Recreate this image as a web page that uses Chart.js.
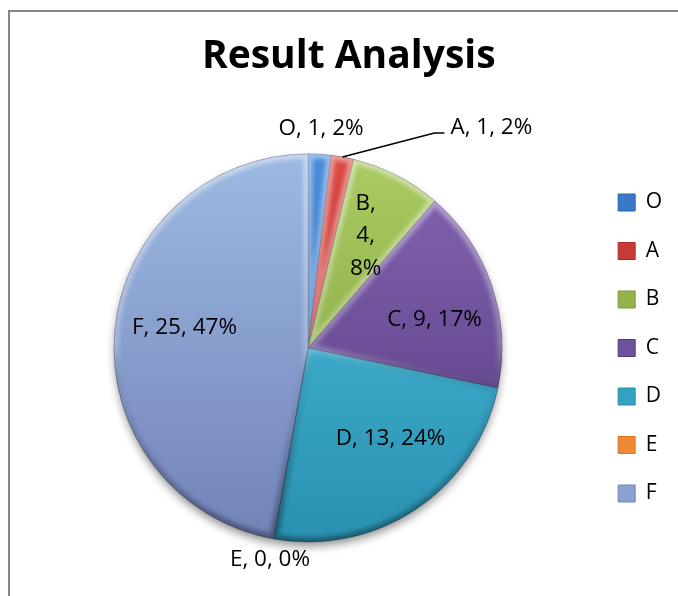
<!DOCTYPE html>
<html><head><meta charset="utf-8">
<script src="https://cdn.jsdelivr.net/npm/chart.js@4.4.0/dist/chart.umd.min.js"></script>
<style>
html,body{margin:0;padding:0;background:#fff;overflow:hidden;width:678px;height:596px;}
#frame{position:absolute;left:8px;top:10px;width:800px;height:800px;border-left:2px solid #878787;border-top:2px solid #878787;box-sizing:border-box;}
#wrap{position:absolute;left:0;top:0;width:678px;height:596px;}
</style></head><body>
<div id="frame"></div>
<div id="wrap"><canvas id="c" width="678" height="596"></canvas></div>
<script>
// ---- data ----
const categories = ['O', 'A', 'B', 'C', 'D', 'E', 'F'];
const counts = [1, 1, 4, 9, 13, 0, 25];
const chartTitle = 'Result Analysis';

// ---- styles ----
const lightColors = ['#4a8ddc', '#dc4a45', '#abcc62', '#8465b3', '#4cc3e0', '#f9a055', '#9dbae3'];
const darkColors  = ['#2862ad', '#ad2b28', '#7c9a38', '#54397d', '#2a8fb0', '#d9751f', '#7282b8'];
const legendColors = ['#3a78c8', '#c83a36', '#93b34c', '#6f529c', '#33a1c0', '#ee8a35', '#8aa2d0'];

// label placement (styling, not data)
const labelPlacement = [
  {mode: 'out', f: 1.134, dx: 0, dy: 0},
  {mode: 'leader', elbow: [92, -24], end: [102, -24], text: [6, -5]},
  {mode: 'in', f: 0.65, dx: 0, dy: 0, wrap: true},
  {mode: 'in', f: 0.65, dx: 7, dy: 12},
  {mode: 'in', f: 0.65, dx: 12, dy: -14},
  {mode: 'out', f: 1.11, dx: 0, dy: 0},
  {mode: 'in', f: 0.65, dx: 2, dy: -9}
];

// percentages that sum to 100 (largest remainder)
function percents(vals) {
  const total = vals.reduce((a, b) => a + b, 0);
  const raw = vals.map(v => v / total * 100);
  const fl = raw.map(Math.floor);
  let rest = 100 - fl.reduce((a, b) => a + b, 0);
  const order = raw.map((r, i) => [r - Math.floor(r), i]).sort((a, b) => b[0] - a[0]);
  for (let k = 0; k < rest; k++) fl[order[k][1]]++;
  return fl;
}
const pcts = percents(counts);

const shadowPlugin = {
  id: 'pieShadow',
  beforeDatasetsDraw(chart) {
    const arc = chart.getDatasetMeta(0).data[0];
    if (!arc) return;
    const ctx = chart.ctx;
    ctx.save();
    ctx.shadowColor = 'rgba(0,0,0,0.45)';
    ctx.shadowBlur = 10;
    ctx.shadowOffsetY = 5;
    ctx.beginPath();
    ctx.arc(arc.x, arc.y, arc.outerRadius - 1, 0, Math.PI * 2);
    ctx.fillStyle = '#888';
    ctx.fill();
    ctx.restore();
  }
};

// soft bevel on each slice edge
const bevelPlugin = {
  id: 'pieBevel',
  afterDatasetsDraw(chart) {
    const ctx = chart.ctx;
    const meta = chart.getDatasetMeta(0);
    meta.data.forEach((arc) => {
      if (arc.endAngle - arc.startAngle <= 0) return;
      const {x, y, outerRadius: R, startAngle: s, endAngle: e} = arc;
      ctx.save();
      ctx.beginPath();
      ctx.moveTo(x, y);
      ctx.arc(x, y, R, s, e);
      ctx.closePath();
      ctx.clip();
      const g = ctx.createLinearGradient(0, y - R, 0, y + R);
      g.addColorStop(0, 'rgba(255,255,255,0.45)');
      g.addColorStop(0.5, 'rgba(255,255,255,0.25)');
      g.addColorStop(0.62, 'rgba(0,0,0,0.05)');
      g.addColorStop(1, 'rgba(0,0,0,0.35)');
      ctx.filter = 'blur(2px)';
      ctx.lineWidth = 9;
      ctx.lineJoin = 'round';
      ctx.strokeStyle = g;
      ctx.stroke();
      ctx.restore();
    });
  }
};

const labelPlugin = {
  id: 'pieLabels',
  afterDatasetsDraw(chart) {
    const ctx = chart.ctx;
    const meta = chart.getDatasetMeta(0);
    ctx.save();
    ctx.font = '22.5px "Open Sans"';
    ctx.fillStyle = '#000';
    ctx.textBaseline = 'middle';
    meta.data.forEach((arc, i) => {
      const p = labelPlacement[i];
      const mid = (arc.startAngle + arc.endAngle) / 2;
      const R = arc.outerRadius;
      const txt = categories[i] + ', ' + counts[i] + ', ' + pcts[i] + '%';
      if (p.mode === 'leader') {
        const ex = arc.x + Math.cos(mid) * R, ey = arc.y + Math.sin(mid) * R;
        const bx = ex + p.elbow[0], by = ey + p.elbow[1];
        const cx = ex + p.end[0], cy = ey + p.end[1];
        ctx.beginPath();
        ctx.moveTo(ex, ey); ctx.lineTo(bx, by); ctx.lineTo(cx, cy);
        ctx.strokeStyle = '#000'; ctx.lineWidth = 1.5; ctx.stroke();
        ctx.textAlign = 'left';
        ctx.fillText(txt, cx + p.text[0], cy + p.text[1]);
        return;
      }
      const x = arc.x + Math.cos(mid) * R * p.f + p.dx;
      const y = arc.y + Math.sin(mid) * R * p.f + p.dy;
      ctx.textAlign = 'center';
      if (p.wrap) {
        const lines = [categories[i] + ',', counts[i] + ',', pcts[i] + '%'];
        const lh = 32.5;
        lines.forEach((l, k) => ctx.fillText(l, x, y + (k - 1) * lh));
      } else {
        ctx.fillText(txt, x, y);
      }
    });
    ctx.restore();
  }
};

function makeGradient(ctxArg, i) {
  const chart = ctxArg.chart;
  const area = chart.chartArea;
  if (!area) return legendColors[i];
  const g = chart.ctx.createLinearGradient(0, area.top, 0, area.bottom);
  g.addColorStop(0, lightColors[i]);
  g.addColorStop(1, darkColors[i]);
  return g;
}

function build() {
  new Chart(document.getElementById('c'), {
    type: 'pie',
    data: {
      labels: categories,
      datasets: [{
        data: counts,
        backgroundColor: (c) => makeGradient(c, c.dataIndex),
        borderColor: 'rgba(50,50,70,0.45)',
        borderWidth: 1
      }]
    },
    plugins: [shadowPlugin, bevelPlugin, labelPlugin],
    options: {
      responsive: false,
      animation: false,
      devicePixelRatio: 1,
      radius: 194,
      layout: {padding: {left: 25.5, right: 6, top: 0, bottom: 54}},
      plugins: {
        tooltip: {enabled: false},
        title: {
          display: true,
          text: chartTitle,
          color: '#000',
          font: {family: 'Open Sans', size: 39, weight: 'bold', lineHeight: 1.2},
          padding: {top: 33, bottom: 74.2}
        },
        legend: {
          position: 'right',
          fullSize: false,
          labels: {
            boxWidth: 17,
            boxHeight: 17,
            padding: 27.5,
            color: '#000',
            font: {family: 'Open Sans', size: 21},
            generateLabels(chart) {
              return categories.map((name, i) => ({
                text: name,
                fillStyle: legendColors[i],
                strokeStyle: darkColors[i],
                lineWidth: 1,
                hidden: false,
                index: i
              }));
            }
          }
        }
      }
    }
  });
}

Promise.all([
  document.fonts.load('bold 39px "Open Sans"'),
  document.fonts.load('22px "Open Sans"')
]).then(build, build);
</script>
</body></html>
